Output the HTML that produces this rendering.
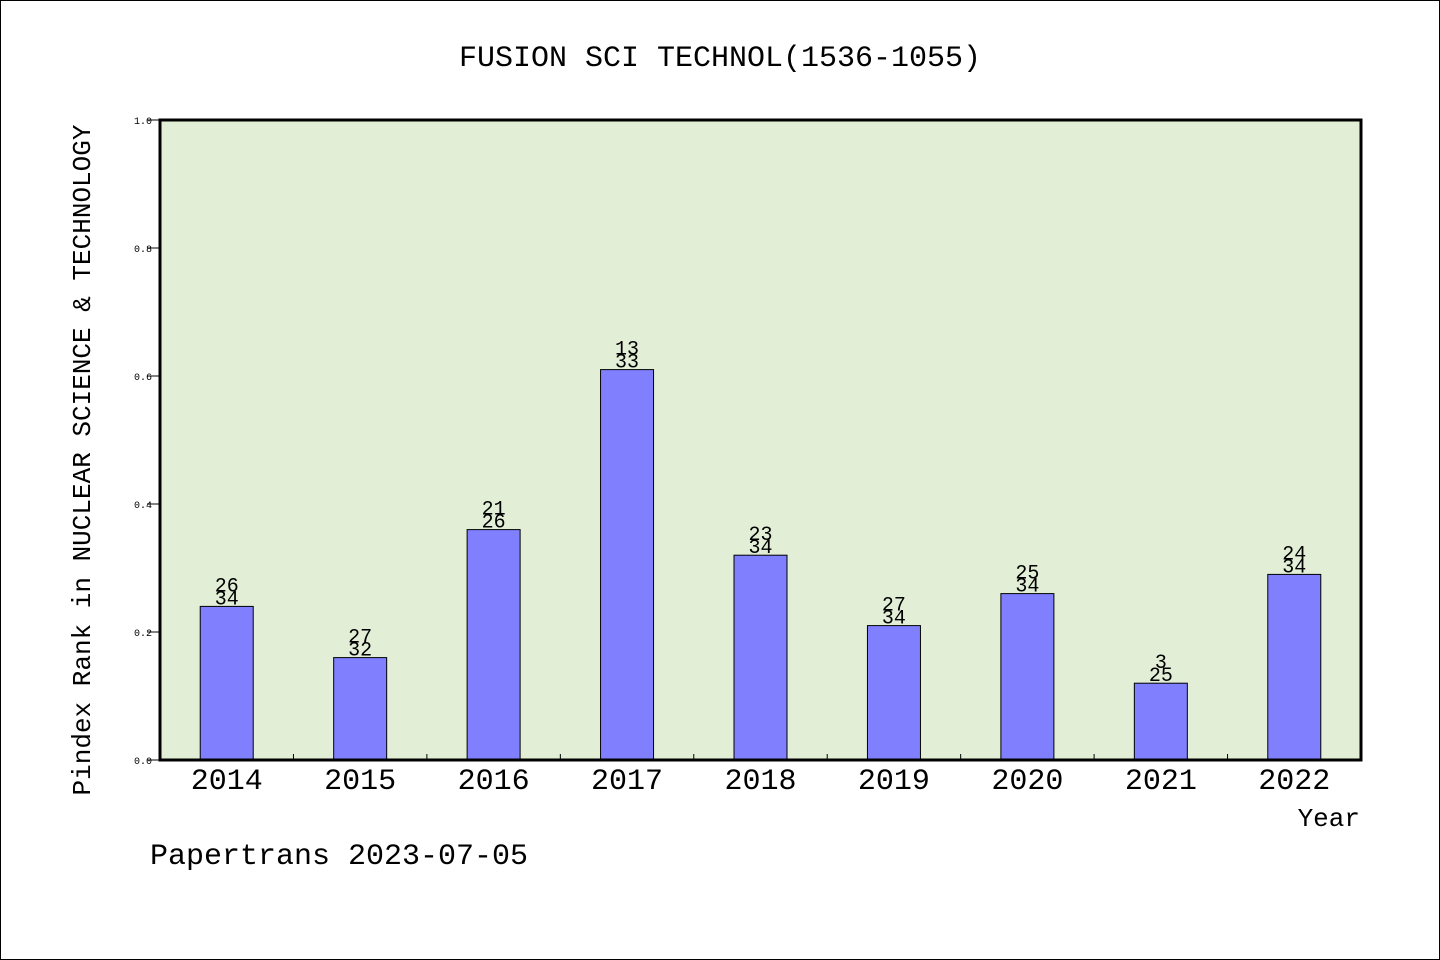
<!DOCTYPE html>
<html><head><meta charset="utf-8"><style>
body{margin:0;background:#fff}
svg{display:block}
text{font-family:"WenQuanYi Zen Hei","Liberation Mono",monospace;fill:#000}
</style></head><body>
<svg id="c" width="1440" height="960" xmlns="http://www.w3.org/2000/svg">
<rect x="0.5" y="0.5" width="1439" height="959" fill="#fff" stroke="#000"/>
<text x="720" y="66" font-size="30" text-anchor="middle">FUSION SCI TECHNOL(1536-1055)</text>
<rect x="160" y="120" width="1201" height="640" fill="#e2efd6"/>
<g id="bars"></g>
<rect x="160" y="120" width="1201" height="640" fill="none" stroke="#000" stroke-width="3"/>
<g id="axes"></g>
<text transform="translate(90,460) rotate(-90)" font-size="26" text-anchor="middle">Pindex Rank in NUCLEAR SCIENCE &amp; TECHNOLOGY</text>
<text x="1360" y="826" font-size="26" text-anchor="end">Year</text>
<text x="150" y="864" font-size="30">Papertrans 2023-07-05</text>
</svg>
<script>
const categories=["2014","2015","2016","2017","2018","2019","2020","2021","2022"];
const values=[0.24,0.16,0.36,0.61,0.32,0.21,0.26,0.12,0.29];
const ranks=["26","27","21","13","23","27","25","3","24"];
const totals=["34","32","26","33","34","34","34","25","34"];
const yTicks=[0,0.2,0.4,0.6,0.8,1.0];
const yTickLabels=["0.0","0.2","0.4","0.6","0.8","1.0"];
const NS="http://www.w3.org/2000/svg";
const x0=160,x1=1361,y0=760,y1=120;
const bw=(x1-x0)/categories.length;
const y=v=>y0-(v)*(y0-y1);
const xc=i=>x0+bw*(i+0.5);
function mk(t,a,p){const e=document.createElementNS(NS,t);for(const k in a)e.setAttribute(k,a[k]);p.appendChild(e);return e;}
const bars=document.getElementById('bars'),axes=document.getElementById('axes');
categories.forEach((c,i)=>{
  const r=mk('rect',{x:xc(i)-26.5,y:y(values[i]),width:53,height:y0-y(values[i]),fill:'#8080ff',stroke:'#000','stroke-width':1},bars);
  
  
  const t1=mk('text',{x:xc(i),y:y(values[i])-15,'font-size':20,'text-anchor':'middle'},bars);t1.textContent=ranks[i];
  
  
  const t2=mk('text',{x:xc(i),y:y(values[i])-2,'font-size':20,'text-anchor':'middle'},bars);t2.textContent=totals[i];
  
  
  const xl=mk('text',{x:xc(i),y:789,'font-size':30,'text-anchor':'middle'},axes);xl.textContent=c;
  
  
  if(i>0){const tk=mk('line',{x1:x0+bw*i,x2:x0+bw*i,y1:y0,y2:y0-6,stroke:'#000'},axes);
  
  }
});
yTicks.forEach((v,i)=>{
  const l=mk('line',{x1:147,x2:160,y1:y(v),y2:y(v),stroke:'#000'},axes);
  
  
  const t=mk('text',{x:152,y:y(v)+4,'font-size':10,'text-anchor':'end'},axes);t.textContent=yTickLabels[i];
  
  
});
</script>
</body></html>
